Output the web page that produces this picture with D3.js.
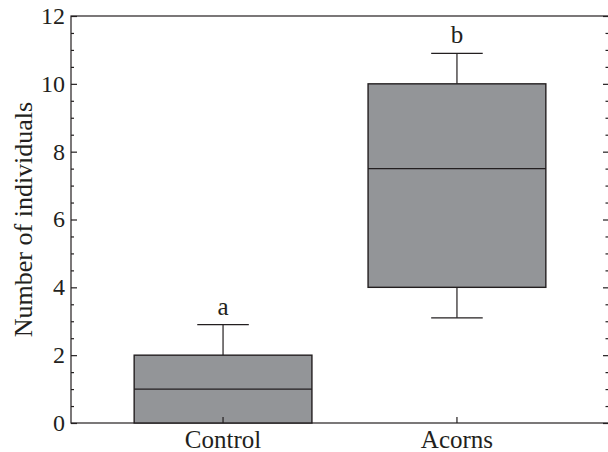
<!DOCTYPE html>
<html>
<head>
<meta charset="utf-8">
<script src="https://cdn.jsdelivr.net/npm/d3@7"></script>
<style>
    body { margin: 0; background: #fff; }
    svg text { font-family: "Liberation Serif", "Times New Roman", serif; fill: #231f20; }
</style>
</head>
<body>
<div id="chart"></div>
<script>
const categories = ["Control", "Acorns"];
const whiskerLow = [0, 3.1];
const q1 = [0, 4];
const medians = [1, 7.5];
const q3 = [2, 10];
const whiskerHigh = [2.9, 10.9];
const groupLetters = ["a", "b"];
const yTicks = [0, 2, 4, 6, 8, 10, 12];

const margin = { top: 16, right: -1, bottom: 29, left: 71 };
const width = 608 - margin.left - margin.right;
const height = 452 - margin.top - margin.bottom;

const ink = "#231f20";

const data = categories.map((c, i) => ({
    cat: c,
    lo: whiskerLow[i],
    q1: q1[i],
    med: medians[i],
    q3: q3[i],
    hi: whiskerHigh[i],
    letter: groupLetters[i]
}));

const svg = d3.select("#chart")
    .append("svg")
    .attr("width", 608)
    .attr("height", 452)
    .append("g")
    .attr("transform", `translate(${margin.left},${margin.top})`);

const x = d3.scaleBand()
    .domain(categories)
    .range([0, width])
    .paddingInner(0.24)
    .paddingOuter(0.27);

const y = d3.scaleLinear()
    .domain([0, 12])
    .range([height, 0]);

const minorTicks = d3.range(0, 12.01, 0.5).filter(v => v % 2 !== 0);

// frame
svg.append("rect")
    .attr("x", 0)
    .attr("y", 0)
    .attr("width", width)
    .attr("height", height)
    .attr("fill", "none")
    .attr("stroke", ink)
    .attr("stroke-width", 1.2);

// left axis, ticks point inward
const left = svg.append("g").attr("class", "y-axis");
left.call(d3.axisRight(y).tickValues(yTicks).tickSize(6).tickFormat(""));
left.append("g").call(d3.axisRight(y).tickValues(minorTicks).tickSize(3).tickFormat(""));
left.selectAll(".domain").remove();
left.selectAll("line").attr("stroke", ink).attr("stroke-width", 1.2);

left.selectAll(".tick-label")
    .data(yTicks)
    .enter()
    .append("text")
    .attr("class", "tick-label")
    .attr("x", -6)
    .attr("y", d => y(d))
    .attr("dy", "0.33em")
    .attr("text-anchor", "end")
    .style("font-size", "24px")
    .text(d => d);

// right axis, mirrored ticks
const right = svg.append("g")
    .attr("class", "y-axis-right")
    .attr("transform", `translate(${width},0)`);
right.call(d3.axisLeft(y).tickValues(yTicks).tickSize(6).tickFormat(""));
right.append("g").call(d3.axisLeft(y).tickValues(minorTicks).tickSize(3.5).tickFormat(""));
right.selectAll(".domain").remove();
right.selectAll("line").attr("stroke", ink).attr("stroke-width", 1.2);

// bottom axis
const bottom = svg.append("g")
    .attr("class", "x-axis")
    .attr("transform", `translate(0,${height})`);
bottom.call(d3.axisTop(x).tickSize(6).tickFormat(""));
bottom.selectAll(".domain").remove();
bottom.selectAll("line").attr("stroke", ink).attr("stroke-width", 1.2);

bottom.selectAll(".cat-label")
    .data(categories)
    .enter()
    .append("text")
    .attr("class", "cat-label")
    .attr("x", d => x(d) + x.bandwidth() / 2)
    .attr("y", 25)
    .attr("text-anchor", "middle")
    .style("font-size", "25px")
    .text(d => d);

// y label
svg.append("text")
    .attr("transform", `translate(${-39},${height / 2}) rotate(-90)`)
    .attr("text-anchor", "middle")
    .style("font-size", "26px")
    .text("Number of individuals");

// boxes
const bw = x.bandwidth();
const cx = bw / 2;
const capW = bw * 0.29;

const boxes = svg.selectAll(".box")
    .data(data)
    .enter()
    .append("g")
    .attr("class", "box")
    .attr("transform", d => `translate(${x(d.cat)},0)`);

boxes.append("line")
    .attr("x1", cx).attr("x2", cx)
    .attr("y1", d => y(d.q3)).attr("y2", d => y(d.hi))
    .attr("stroke", ink).attr("stroke-width", 1.2);

boxes.append("line")
    .attr("x1", cx).attr("x2", cx)
    .attr("y1", d => y(d.q1)).attr("y2", d => y(d.lo))
    .attr("stroke", ink).attr("stroke-width", 1.2);

boxes.append("line")
    .attr("x1", cx - capW / 2).attr("x2", cx + capW / 2)
    .attr("y1", d => y(d.hi)).attr("y2", d => y(d.hi))
    .attr("stroke", ink).attr("stroke-width", 1.2);

boxes.filter(d => d.lo < d.q1)
    .append("line")
    .attr("x1", cx - capW / 2).attr("x2", cx + capW / 2)
    .attr("y1", d => y(d.lo)).attr("y2", d => y(d.lo))
    .attr("stroke", ink).attr("stroke-width", 1.2);

boxes.append("rect")
    .attr("x", 0)
    .attr("y", d => y(d.q3))
    .attr("width", bw)
    .attr("height", d => y(d.q1) - y(d.q3))
    .attr("fill", "#939598")
    .attr("stroke", ink)
    .attr("stroke-width", 1.4);

boxes.append("line")
    .attr("x1", 0).attr("x2", bw)
    .attr("y1", d => y(d.med)).attr("y2", d => y(d.med))
    .attr("stroke", ink).attr("stroke-width", 1.4);

// the control box sits on the axis, so its centre tick shows through
bottom.raise();

boxes.append("text")
    .attr("x", cx)
    .attr("y", d => y(d.hi) - 10)
    .attr("text-anchor", "middle")
    .style("font-size", "25px")
    .text(d => d.letter);
</script>
</body>
</html>
